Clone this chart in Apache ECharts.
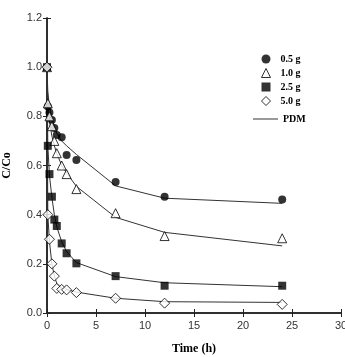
<!DOCTYPE html>
<html>
<head>
<meta charset="utf-8">
<script src="https://cdn.jsdelivr.net/npm/echarts@6/dist/echarts.min.js"></script>
<style>
  html, body { margin: 0; padding: 0; background: #fff; }
  #main { width: 345px; height: 357px; }
</style>
</head>
<body>
<div id="main"></div>
<script>
// sampling times (h)
var times = [0, 0.083, 0.25, 0.5, 0.75, 1, 1.5, 2, 3, 7, 12, 24];

// measured C/Co
var obs05 = [1.0, 0.84, 0.816, 0.785, 0.753, 0.724, 0.715, 0.643, 0.622, 0.533, 0.473, 0.462];
var obs10 = [1.0, 0.853, 0.80, 0.76, 0.70, 0.65, 0.60, 0.565, 0.504, 0.406, 0.313, 0.304];
var obs25 = [1.0, 0.68, 0.565, 0.473, 0.38, 0.354, 0.283, 0.243, 0.202, 0.150, 0.111, 0.111];
var obs50 = [1.0, 0.40, 0.30, 0.20, 0.15, 0.10, 0.096, 0.094, 0.083, 0.060, 0.040, 0.035];

// PDM model curves
var pdm05 = [1.0, 0.90, 0.84, 0.79, 0.76, 0.73, 0.70, 0.68, 0.645, 0.517, 0.467, 0.446];
var pdm10 = [1.0, 0.86, 0.78, 0.72, 0.68, 0.65, 0.60, 0.57, 0.515, 0.389, 0.328, 0.273];
var pdm25 = [1.0, 0.68, 0.56, 0.47, 0.40, 0.35, 0.29, 0.25, 0.205, 0.148, 0.123, 0.107];
var pdm50 = [1.0, 0.40, 0.29, 0.20, 0.15, 0.12, 0.10, 0.095, 0.085, 0.060, 0.046, 0.043];

var doseNames = ['0.5 g', '1.0 g', '2.5 g', '5.0 g'];
var xTicks = [0, 30, 5];
var yTicks = [0, 1.2, 0.2];

function pairs(ys) {
  return times.map(function (t, i) { return [t, ys[i]]; });
}

var labelFont = { fontFamily: 'Liberation Sans', fontSize: 11, color: '#333' };
var titleFont = { fontFamily: 'Liberation Serif', fontWeight: 'bold', fontSize: 12, color: '#000' };
var legendFont = { fontFamily: 'Liberation Serif', fontWeight: 'bold', fontSize: 10, color: '#000' };
var axisLine = { show: true, lineStyle: { color: '#222', width: 1.5 } };
var ticks = { show: true, inside: true, length: 4, lineStyle: { color: '#222', width: 1 } };

var pdmStyle = { color: '#333', width: 1 };
function pdmSeries(ys) {
  return {
    name: 'PDM', type: 'line', symbol: 'none', data: pairs(ys),
    lineStyle: pdmStyle, itemStyle: { color: '#333' }, z: 2
  };
}

var hollow = { color: '#fff', borderColor: '#000', borderWidth: 1 };
var filled = { color: '#000', borderColor: '#000', borderWidth: 0 };

var chart = echarts.init(document.getElementById('main'));
chart.setOption({
  animation: false,
  backgroundColor: '#fff',
  grid: { left: 47, right: 4, top: 18, bottom: 44, outerBoundsMode: 'none' },
  legend: [{
    // sample doses
    orient: 'vertical',
    left: 256,
    top: 49,
    itemWidth: 9,
    itemHeight: 9,
    itemGap: 4,
    textStyle: Object.assign({ padding: [0, 0, 0, 5] }, legendFont),
    data: [
      { name: doseNames[0], icon: 'circle', itemStyle: filled },
      { name: doseNames[1], icon: 'triangle', itemStyle: hollow },
      { name: doseNames[2], icon: 'rect', itemStyle: filled },
      { name: doseNames[3], icon: 'diamond', itemStyle: hollow }
    ]
  }, {
    // model line
    orient: 'vertical',
    left: 248,
    top: 109,
    itemWidth: 25,
    itemHeight: 1,
    textStyle: legendFont,
    data: [{ name: 'PDM', icon: 'rect', itemStyle: { color: '#333' } }]
  }],
  xAxis: [{
    type: 'value', min: xTicks[0], max: xTicks[1], interval: xTicks[2],
    name: 'Time (h)', nameLocation: 'middle', nameGap: 30, nameTextStyle: titleFont,
    axisLine: axisLine, axisTick: ticks, splitLine: { show: false },
    axisLabel: Object.assign({ margin: 7 }, labelFont)
  }, {
    type: 'value', position: 'top', min: xTicks[0], max: xTicks[1], interval: xTicks[2],
    axisLine: axisLine, axisTick: ticks, splitLine: { show: false }, axisLabel: { show: false }
  }],
  yAxis: [{
    type: 'value', min: yTicks[0], max: yTicks[1], interval: yTicks[2],
    name: 'C/Co', nameLocation: 'middle', nameGap: 34, nameTextStyle: titleFont,
    axisLine: axisLine, axisTick: ticks, splitLine: { show: false },
    axisLabel: Object.assign({ margin: 5, formatter: function (v) { return v.toFixed(1); } }, labelFont)
  }, {
    type: 'value', position: 'right', min: yTicks[0], max: yTicks[1], interval: yTicks[2],
    axisLine: axisLine, axisTick: ticks, splitLine: { show: false }, axisLabel: { show: false }
  }],
  series: [
    pdmSeries(pdm05),
    pdmSeries(pdm10),
    pdmSeries(pdm25),
    pdmSeries(pdm50),
    { name: doseNames[0], type: 'scatter', symbol: 'circle', symbolSize: 8, data: pairs(obs05), itemStyle: filled, z: 3 },
    { name: doseNames[1], type: 'scatter', symbol: 'triangle', symbolSize: 9, data: pairs(obs10), itemStyle: hollow, z: 3 },
    { name: doseNames[2], type: 'scatter', symbol: 'rect', symbolSize: 8, data: pairs(obs25), itemStyle: filled, z: 3 },
    { name: doseNames[3], type: 'scatter', symbol: 'diamond', symbolSize: 10, data: pairs(obs50), itemStyle: hollow, z: 3 }
  ]
});
</script>
</body>
</html>
